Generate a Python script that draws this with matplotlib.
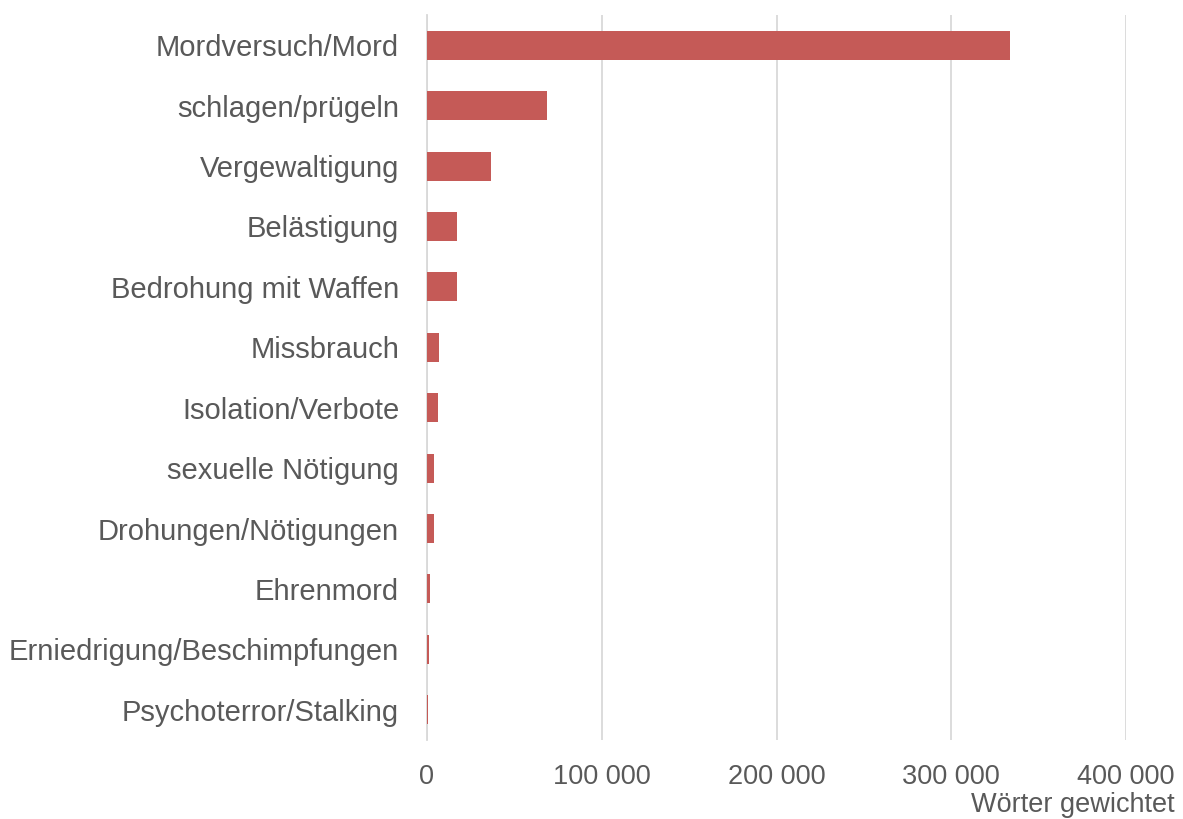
import matplotlib.pyplot as plt
from matplotlib.ticker import FuncFormatter

# -----------------------------
# DATA
# -----------------------------

categories = [
    "Mordversuch/Mord",
    "schlagen/prügeln",
    "Vergewaltigung",
    "Belästigung",
    "Bedrohung mit Waffen",
    "Missbrauch",
    "Isolation/Verbote",
    "sexuelle Nötigung",
    "Drohungen/Nötigungen",
    "Ehrenmord",
    "Erniedrigung/Beschimpfungen",
    "Psychoterror/Stalking",
]
values = [333900, 68900, 36400, 17000, 17000, 6900, 6300, 4000, 4000, 2000, 1300, 500]

x_ticks = [0, 100000, 200000, 300000, 400000]
x_label = "Wörter gewichtet"

# -----------------------------
# CHART
# -----------------------------

plt.rcParams["font.family"] = ["Liberation Sans", "DejaVu Sans"]
text_color = "#595959"

fig = plt.figure(figsize=(11.83, 8.19), dpi=100)
ax = fig.add_axes([427 / 1183, 1 - 740 / 819, (1126 - 427) / 1183, (740 - 15) / 819])

ypos = list(range(len(categories)))
ax.barh(ypos, values, height=0.48, color="#c55a57", zorder=3)

ax.set_ylim(len(categories) - 0.5, -0.5)
ax.set_xlim(0, 400000)
ax.set_yticks(ypos)
ax.set_yticklabels(categories, fontsize=21, color=text_color)
ax.set_xticks(x_ticks)
ax.xaxis.set_major_formatter(FuncFormatter(lambda v, p: f"{int(v):,}".replace(",", " ")))
ax.tick_params(axis="x", labelsize=19.5, labelcolor=text_color, length=0, pad=17)
ax.tick_params(axis="y", length=0, pad=20)

ax.grid(axis="x", color="#d9d9d9", linewidth=1.3, zorder=0)
for side in ["top", "right", "bottom"]:
    ax.spines[side].set_visible(False)
ax.spines["left"].set_color("#d9d9d9")
ax.spines["left"].set_linewidth(1.3)

fig.text(1175 / 1183, 1 - 805 / 819, x_label, ha="right", va="center",
         fontsize=19.5, color=text_color)

plt.savefig("out.png", dpi=100)
plt.close()
